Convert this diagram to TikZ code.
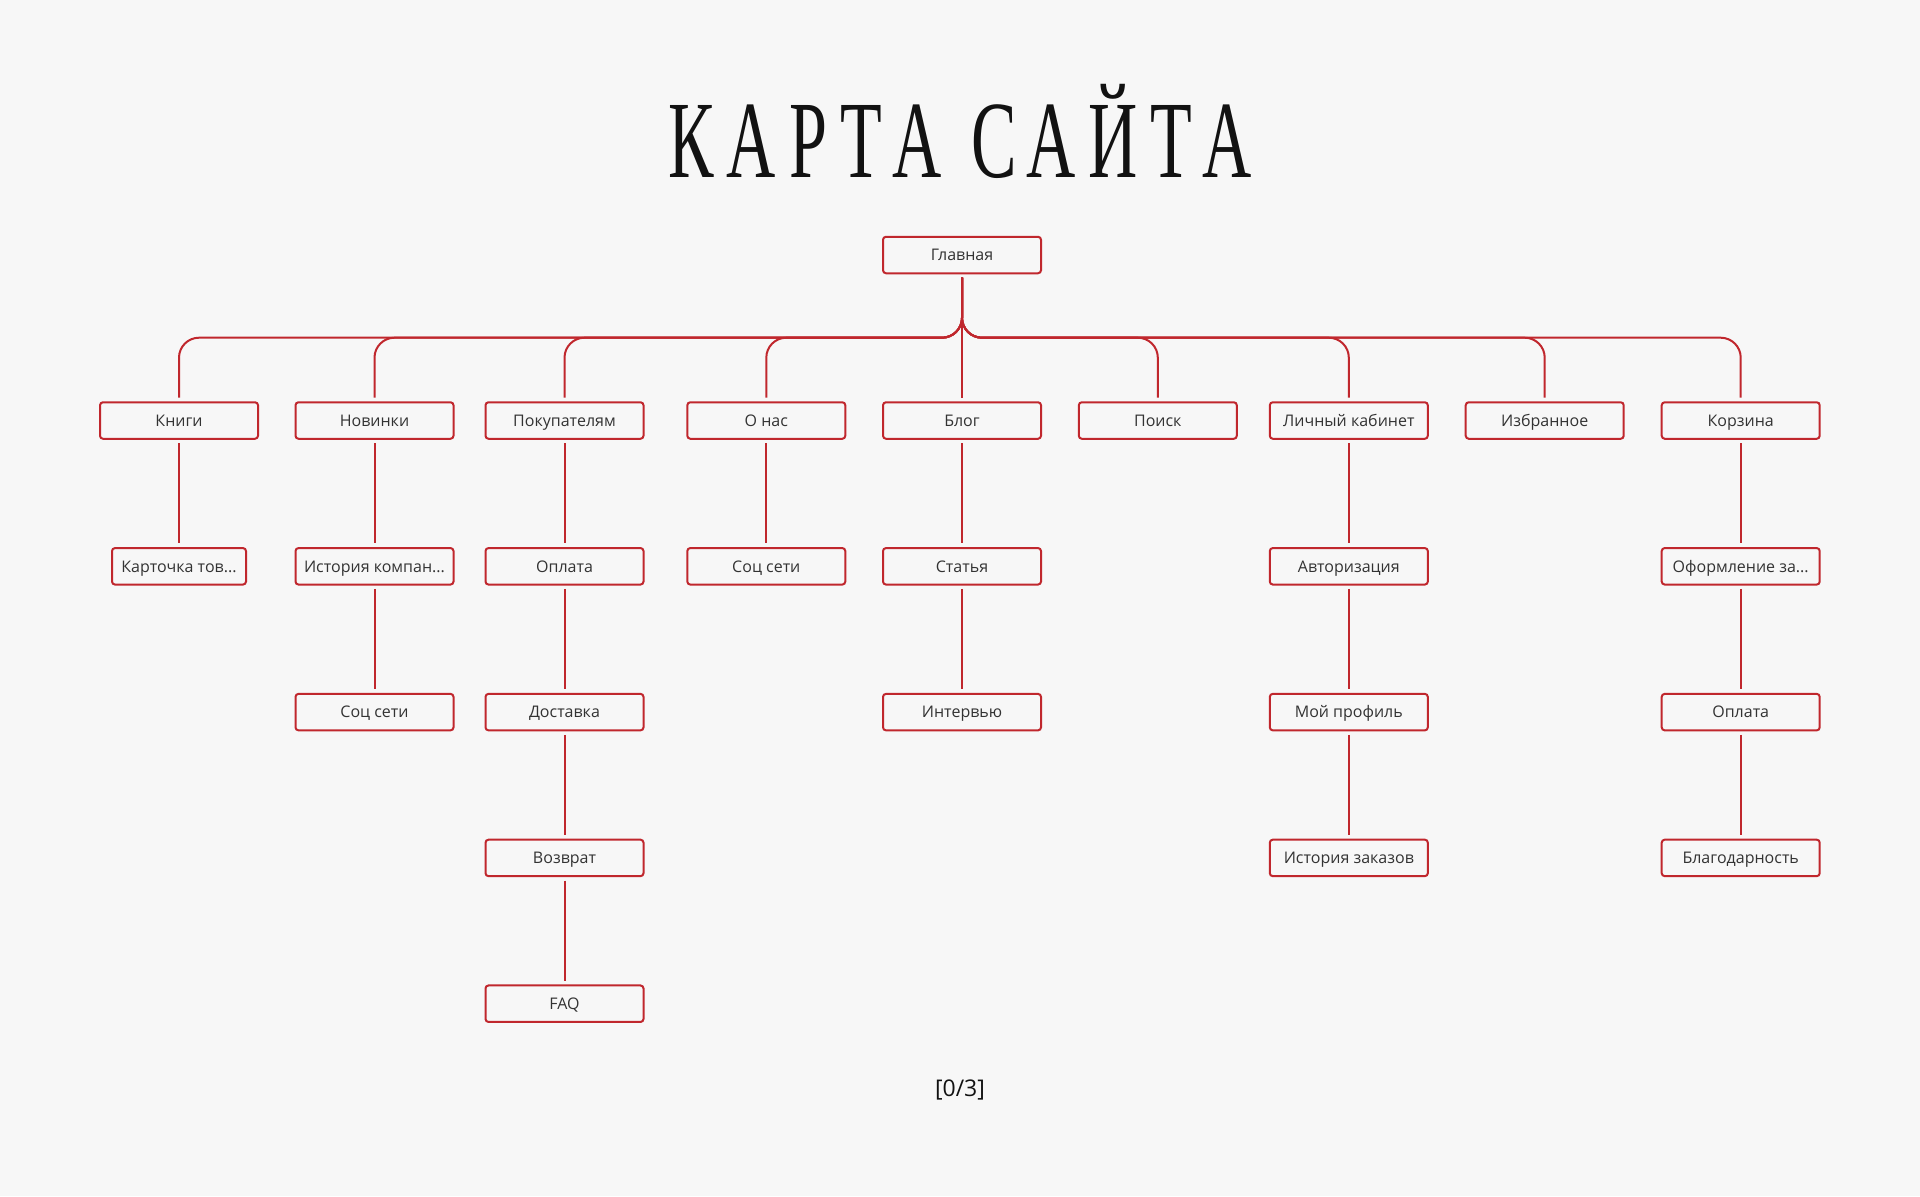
\documentclass[tikz,border=0pt]{standalone}
\usepackage{fontspec}
\setmainfont{Open Sans}
\newfontfamily\titlefont[LetterSpace=19]{Liberation Serif}
\usepackage{tikz}
\usetikzlibrary{positioning}
\definecolor{pagebg}{RGB}{247,247,247}
\definecolor{mapred}{RGB}{192,39,45}
\definecolor{labelgray}{RGB}{51,51,51}
\tikzstyle{item}=[draw=mapred, line width=1pt, rounded corners=1.5pt,
               minimum width=79pt, minimum height=18.25pt, inner sep=0pt,
               text height=5.7pt, text depth=0pt,
               text=labelgray, font=\fontsize{8}{10}\selectfont]
\tikzstyle{short item}=[item, minimum width=67pt]
\tikzstyle{link}=[draw=mapred, line width=1pt, shorten <=1.7pt, shorten >=1.8pt]
\tikzstyle{bus}=[link, rounded corners=10pt]

\begin{document}
\begin{tikzpicture}[x=0.5pt, y=-0.5pt, node distance=53.65pt]
\fill[pagebg] (0,0) rectangle (1920,1196);
\useasboundingbox (0,0) rectangle (1920,1196);

% title
\node[anchor=base, text=black!93] (title) at (960,177)
  {\titlefont\fontsize{55}{60}\selectfont\scalebox{0.62}[1]{КАРТА САЙТА}};

\node[item] at (962,255) (glav) {Главная};
\coordinate (fork) at (962,337.7);

% first level
\node[item] at (179,420.5) (kn) {Книги};
\node[item] at (374.5,420.5) (nov) {Новинки};
\node[item] at (564.5,420.5) (pok) {Покупателям};
\node[item] at (766.3,420.5) (onas) {О нас};
\node[item] at (962,420.5) (blog) {Блог};
\node[item] at (1157.8,420.5) (poisk) {Поиск};
\node[item] at (1348.8,420.5) (lk) {Личный кабинет};
\node[item] at (1544.7,420.5) (izb) {Избранное};
\node[item] at (1740.7,420.5) (korz) {Корзина};

% deeper levels
\node[short item, below = of kn] (kart) {Карточка тов...};
\node[item, below = of nov] (ist) {История компан...};
\node[item, below = of ist] (soc) {Соц сети};
\node[item, below = of pok] (opl) {Оплата};
\node[item, below = of opl] (dost) {Доставка};
\node[item, below = of dost] (vozv) {Возврат};
\node[item, below = of vozv] (faq) {FAQ};
\node[item, below = of onas] (socn) {Соц сети};
\node[item, below = of blog] (stat) {Статья};
\node[item, below = of stat] (intv) {Интервью};
\node[item, below = of lk] (avt) {Авторизация};
\node[item, below = of avt] (prof) {Мой профиль};
\node[item, below = of prof] (zak) {История заказов};
\node[item, below = of korz] (oform) {Оформление за...};
\node[item, below = of oform] (oplk) {Оплата};
\node[item, below = of oplk] (blag) {Благодарность};

\foreach \c in {kn,nov,pok,onas,poisk,lk,izb,korz}
{
  \draw[bus] (glav) -- (fork) -| (\c);
}
\foreach \a/\b in {glav/blog, kn/kart, nov/ist, ist/soc, pok/opl, opl/dost,
    dost/vozv, vozv/faq, onas/socn, blog/stat, stat/intv, lk/avt, avt/prof,
    prof/zak, korz/oform, oform/oplk, oplk/blag}
{
  \draw[link] (\a) -- (\b);
}

\node[text=black!93, font=\fontsize{11.5}{13}\selectfont] at (960,1090) (page) {[0/3]};
\end{tikzpicture}
\end{document}
